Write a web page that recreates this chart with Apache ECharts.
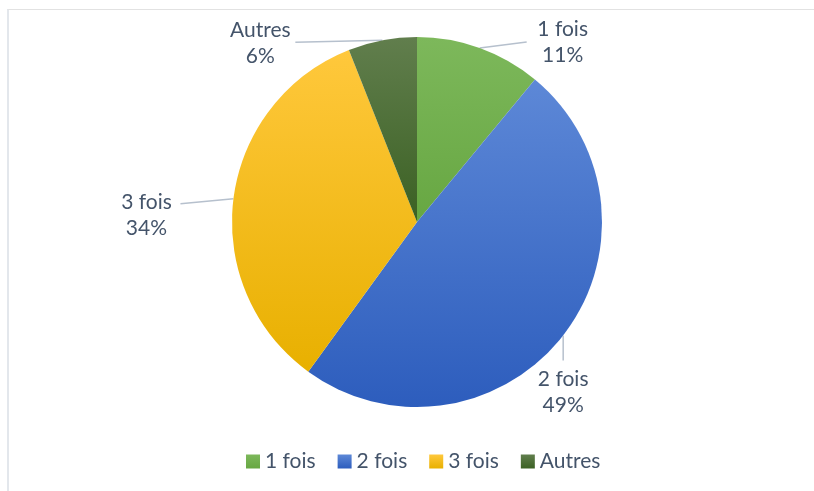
<!DOCTYPE html>
<html>
<head>
<meta charset="utf-8">
<script src="https://cdn.jsdelivr.net/npm/echarts@6/dist/echarts.min.js"></script>
<style>
    html, body { margin: 0; padding: 0; background: #fff; }
    #frame { position: absolute; left: 7px; top: 9px; width: 820px; height: 500px; border-left: 2px solid #e3e7ec; border-top: 1px solid #e2e2e2; }
    #main { position: absolute; left: 0; top: 0; width: 814px; height: 491px; }
</style>
</head>
<body>
<div id="frame"></div>
<div id="main"></div>
<script>
    var categories = ['1 fois', '2 fois', '3 fois', 'Autres'];
    var values = [11, 49, 34, 6];
    // couleurs haut / bas de chaque part (dégradé)
    var colorsTop = ['#7db85b', '#5d88d7', '#ffc83c', '#617e4d'];
    var colorsBottom = ['#67a742', '#2d5dbd', '#e8b000', '#3b6123'];
    // position des étiquettes par rapport au bord de la part
    var labelOffsets = [[83, -6], [0, 57], [-87, 16], [-122, 3]];
    var lineEnds = [[47, -6], [0, 25], [-53, 5], [-87, 2]];

    var textColor = '#44546a';

    var pieData = categories.map(function (name, i) {
        return {
            name: name,
            value: values[i],
            itemStyle: {
                color: new echarts.graphic.LinearGradient(0, 0, 0, 1, [
                    {offset: 0, color: colorsTop[i]},
                    {offset: 1, color: colorsBottom[i]}
                ])
            }
        };
    });

    var chart = echarts.init(document.getElementById('main'));
    var option = {
        backgroundColor: 'transparent',
        animation: false,
        legend: {
            data: categories,
            left: 241,
            top: 446,
            icon: 'rect',
            itemWidth: 14,
            itemHeight: 14,
            itemGap: 22,
            itemTextGap: 6,
            textStyle: {
                color: textColor,
                fontSize: 21,
                fontFamily: 'Lato'
            }
        },
        series: [{
            type: 'pie',
            center: [417, 222],
            radius: 185,
            startAngle: 90,
            clockwise: true,
            data: pieData,
            label: {
                show: true,
                position: 'outside',
                formatter: '{b}\n{d}%',
                color: textColor,
                fontSize: 21,
                fontFamily: 'Lato',
                lineHeight: 26,
                align: 'center'
            },
            labelLine: {
                show: true,
                length: 10,
                length2: 10,
                lineStyle: {
                    color: '#b6c0cd',
                    width: 1.5
                }
            },
            labelLayout: function (params) {
                var i = params.dataIndex;
                var start = params.labelLinePoints[0];
                var end = [start[0] + lineEnds[i][0], start[1] + lineEnds[i][1]];
                return {
                    x: start[0] + labelOffsets[i][0],
                    y: start[1] + labelOffsets[i][1],
                    align: 'center',
                    verticalAlign: 'middle',
                    labelLinePoints: [start, end, end]
                };
            }
        }]
    };
    chart.setOption(option);
</script>
</body>
</html>
